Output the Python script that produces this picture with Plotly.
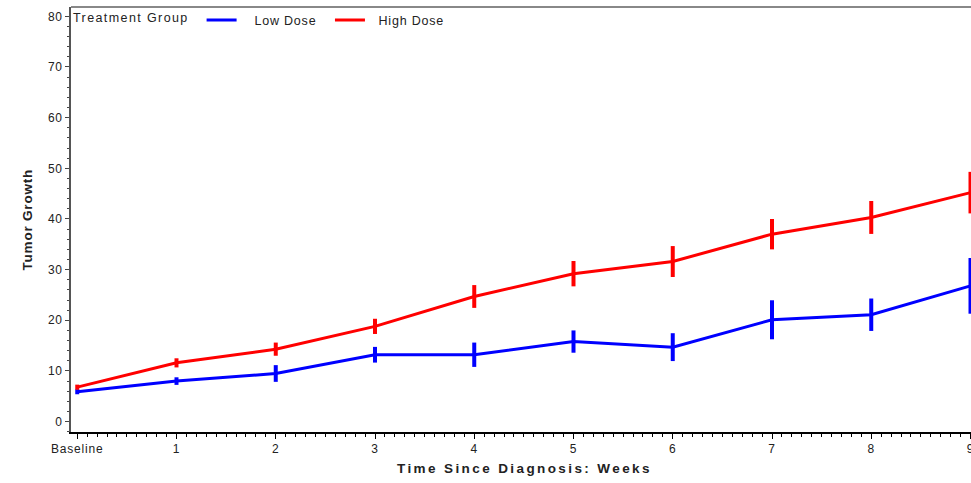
import plotly.graph_objects as go

weeks = [0, 1, 2, 3, 4, 5, 6, 7, 8, 9]
week_labels = ["Baseline", "1", "2", "3", "4", "5", "6", "7", "8", "9"]
low_mean = [5.9, 8.0, 9.5, 13.2, 13.2, 15.8, 14.7, 20.1, 21.1, 26.8]
low_err = [0.5, 0.75, 1.65, 1.55, 2.4, 2.2, 2.75, 3.85, 3.2, 5.5]
high_mean = [6.8, 11.6, 14.3, 18.8, 24.7, 29.2, 31.6, 37.0, 40.3, 45.2]
high_err = [0.5, 0.9, 1.3, 1.5, 2.25, 2.5, 3.05, 3.0, 3.25, 4.1]
y_ticks = [0, 10, 20, 30, 40, 50, 60, 70, 80]

FONT = "Liberation Sans, Arial, sans-serif"
TXT = "#222222"
NB = "&nbsp;"


def sp(s, ls=0.8):
    return f'<span style="letter-spacing:{ls}px">{s}</span>'


fig = go.Figure()
fig.add_trace(go.Scatter(
    x=weeks, y=low_mean, mode="lines", name=sp(NB * 3 + "Low Dose" + NB * 2),
    line=dict(color="#0000FF", width=3),
    error_y=dict(type="data", array=low_err, color="#0000FF", thickness=4, width=0),
))
fig.add_trace(go.Scatter(
    x=weeks, y=high_mean, mode="lines", name=sp(NB * 2 + "High Dose"),
    line=dict(color="#FF0000", width=3),
    error_y=dict(type="data", array=high_err, color="#FF0000", thickness=4, width=0),
))

fig.update_layout(
    width=971, height=483,
    margin=dict(l=71, r=0, t=7, b=51),
    paper_bgcolor="white", plot_bgcolor="white",
    font=dict(family=FONT, size=12, color=TXT),
    showlegend=True,
    legend=dict(
        orientation="h", x=0, y=1.004, xanchor="left", yanchor="top",
        bgcolor="rgba(0,0,0,0)", borderwidth=0,
        title=dict(text=sp("Treatment Group" + NB, 1.4), side="left", font=dict(size=12.5)),
        font=dict(size=12.5), itemwidth=30,
    ),
    xaxis=dict(
        range=[-0.063, 9.005], showgrid=False, zeroline=False, automargin=False,
        tickmode="array", tickvals=weeks, ticktext=[sp(t) for t in week_labels],
        ticks="outside", ticklen=5, tickcolor="black", tickwidth=1,
        showline=True, linecolor="black", linewidth=1.5,
        tickfont=dict(size=12), ticklabeloverflow="allow",
        minor=dict(dtick=0.1, tick0=0, ticks="outside", ticklen=3, tickcolor="black", showgrid=False),
    ),
    yaxis=dict(
        range=[-2.05, 81.84], showgrid=False, zeroline=False, automargin=False,
        tickmode="array", tickvals=y_ticks, ticktext=[sp(str(v)) for v in y_ticks],
        ticks="outside", ticklen=4, tickcolor="#444", tickwidth=1,
        showline=True, linecolor="#555", linewidth=1.5,
        tickfont=dict(size=12),
        minor=dict(dtick=2, tick0=0, ticks="outside", ticklen=2.5, tickcolor="#444", showgrid=False),
    ),
    shapes=[dict(type="line", xref="paper", yref="paper", x0=0, x1=1, y0=1, y1=1,
                 line=dict(color="#888888", width=2))],
    annotations=[
        dict(text="<b>" + sp("Time Since Diagnosis: Weeks", 2.4) + "</b>", xref="paper", yref="paper",
             x=0.5, y=0, xanchor="center", yanchor="middle", yshift=-36, xshift=3,
             showarrow=False, font=dict(size=13.5, color=TXT)),
        dict(text="<b>" + sp("Tumor Growth", 0.8) + "</b>", xref="paper", yref="paper",
             x=0, y=0.5, xanchor="center", yanchor="middle", xshift=-44,
             textangle=-90, showarrow=False, font=dict(size=13.5, color=TXT)),
    ],
)

fig.write_html("out.html")
